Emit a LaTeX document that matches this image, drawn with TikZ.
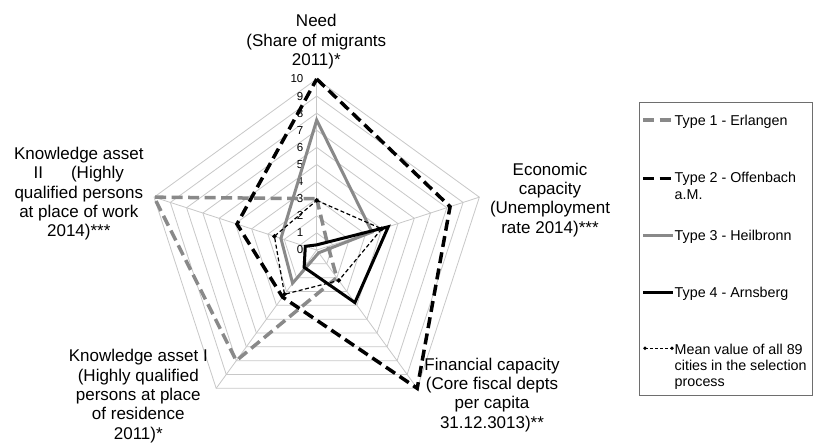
\documentclass[tikz,border=0pt]{standalone}
\usepackage{fontspec}
\setmainfont{Liberation Sans}
\usetikzlibrary{shapes.geometric}
\definecolor{sgray}{RGB}{137,137,137}
\definecolor{gridgray}{RGB}{200,200,200}
\definecolor{boxgray}{RGB}{110,110,110}
\newcommand\rstep{17.1}
\begin{document}
\begin{tikzpicture}[x=1pt,y=1pt,
  gridline/.style={draw=gridgray, line width=0.8pt},
  axislbl/.style={font=\fontsize{17}{19.3}\selectfont, align=center, inner sep=0pt, anchor=north},
  ticklbl/.style={font=\fontsize{11.5}{12}\selectfont, anchor=east, inner sep=0pt},
  leglbl/.style={font=\fontsize{14.3}{16.3}\selectfont, align=left, inner sep=0pt, anchor=north west},
  ser1/.style={draw=sgray, line width=3.5pt, dash pattern=on 11pt off 5.5pt},
  ser2/.style={draw=black, line width=3.5pt, dash pattern=on 11pt off 5.5pt},
  ser3/.style={draw=sgray, line width=3pt},
  ser4/.style={draw=black, line width=3pt},
  ser5/.style={draw=black, line width=1.2pt, dash pattern=on 4pt off 2.5pt},
  mk/.style={diamond, fill=black, inner sep=0pt, minimum size=5pt}]
\useasboundingbox (0,0) rectangle (821,-442);
\fill[white] (0,0) rectangle (821,-442);

% ---------- radar ----------
\begin{scope}[shift={(316.7,-250)}]
  \coordinate (c) at (0,0);
  \foreach \i in {1,...,10}
    \draw[gridline] (90:{\i*\rstep}) -- (18:{\i*\rstep}) -- (-54:{\i*\rstep})
      -- (-126:{\i*\rstep}) -- (162:{\i*\rstep}) -- cycle;
  \foreach \n/\a in {N/90,E/18,F/-54,I/-126,J/162}{
    \coordinate (v\n) at (\a:{10*\rstep});
    \draw[gridline] (c) -- (v\n);
  }
  \foreach \i in {0,...,10}
    \node[ticklbl] (t\i) at (-13.2,{\i*\rstep}) {\i};

  \foreach \s/\vN/\vE/\vF/\vI/\vJ in
     {a/3/0.7/2/8/10, b/10/8.2/10/3.4/4.9, c/7.6/3.4/0.2/2.4/2.2,
      d/0.3/4.4/3.8/1.25/0.7, m/2.9/4.0/2.2/3.2/2.6}{
    \coordinate (\s N) at (90:{\vN*\rstep});
    \coordinate (\s E) at (18:{\vE*\rstep});
    \coordinate (\s F) at (-54:{\vF*\rstep});
    \coordinate (\s I) at (-126:{\vI*\rstep});
    \coordinate (\s J) at (162:{\vJ*\rstep});
  }
  \draw[ser1] (aN) -- (aE) -- (aF) -- (aI) -- (aJ) -- cycle;
  \draw[ser2] (bN) -- (bE) -- (bF) -- (bI) -- (bJ) -- cycle;
  \draw[ser3] (cN) -- (cE) -- (cF) -- (cI) -- (cJ) -- cycle;
  \draw[ser4] (dN) -- (dE) -- (dF) -- (dI) -- (dJ) -- cycle;
  \draw[ser5] (mN) -- (mE) -- (mF) -- (mI) -- (mJ) -- cycle;
  \foreach \n in {N,E,F,I,J}
    \node[mk] (mk\n) at (m\n) {};
\end{scope}

% ---------- axis labels ----------
\node[axislbl] (lneed) at (316.3,-14.3) {Need\\(Share of migrants\\2011)*};
\node[axislbl] (lecon) at (550,-162.6) {Economic\\capacity\\(Unemployment\\rate 2014)***};
\node[axislbl] (lkii) at (78.8,-146.9) {Knowledge asset\\II\hspace{28pt}(Highly\\qualified persons\\at place of work\\2014)***};
\node[axislbl] (lki) at (138.3,-349.3) {Knowledge asset I\\(Highly qualified\\persons at place\\of residence\\2011)*};
\node[axislbl] (lfin) at (492,-357.6) {Financial capacity\\(Core fiscal depts\\per capita\\31.12.3013)**};

% ---------- legend ----------
\draw[draw=boxgray, line width=0.9pt] (639,-102) rectangle (812.7,-395);
\coordinate (g1a) at (643,-120);   \coordinate (g1b) at (673,-120);
\coordinate (g2a) at (643,-178.3); \coordinate (g2b) at (673,-178.3);
\coordinate (g3a) at (643,-235);   \coordinate (g3b) at (673,-235);
\coordinate (g4a) at (643,-292.3); \coordinate (g4b) at (673,-292.3);
\coordinate (g5a) at (645,-348.3); \coordinate (g5b) at (672,-348.3);
\draw[ser1, line width=3.2pt] (g1a) -- (g1b);
\draw[ser2, line width=3.2pt] (g2a) -- (g2b);
\draw[ser3] (g3a) -- (g3b);
\draw[ser4] (g4a) -- (g4b);
\draw[ser5, line width=1pt, dash pattern=on 3pt off 2pt] (g5a) -- (g5b);
\node[mk, minimum size=4pt] (gm1) at (g5a) {};
\node[mk, minimum size=4pt] (gm2) at (g5b) {};
\node[leglbl] (e1) at (674.5,-114.6) {Type 1 - Erlangen};
\node[leglbl] (e2) at (674.5,-172.3) {Type 2 - Offenbach\\a.M.};
\node[leglbl] (e3) at (674.5,-229.6) {Type 3 - Heilbronn};
\node[leglbl] (e4) at (674.5,-287.3) {Type 4 - Arnsberg};
\node[leglbl] (e5) at (674.5,-343.6) {Mean value of all 89\\cities in the selection\\process};
\end{tikzpicture}
\end{document}
